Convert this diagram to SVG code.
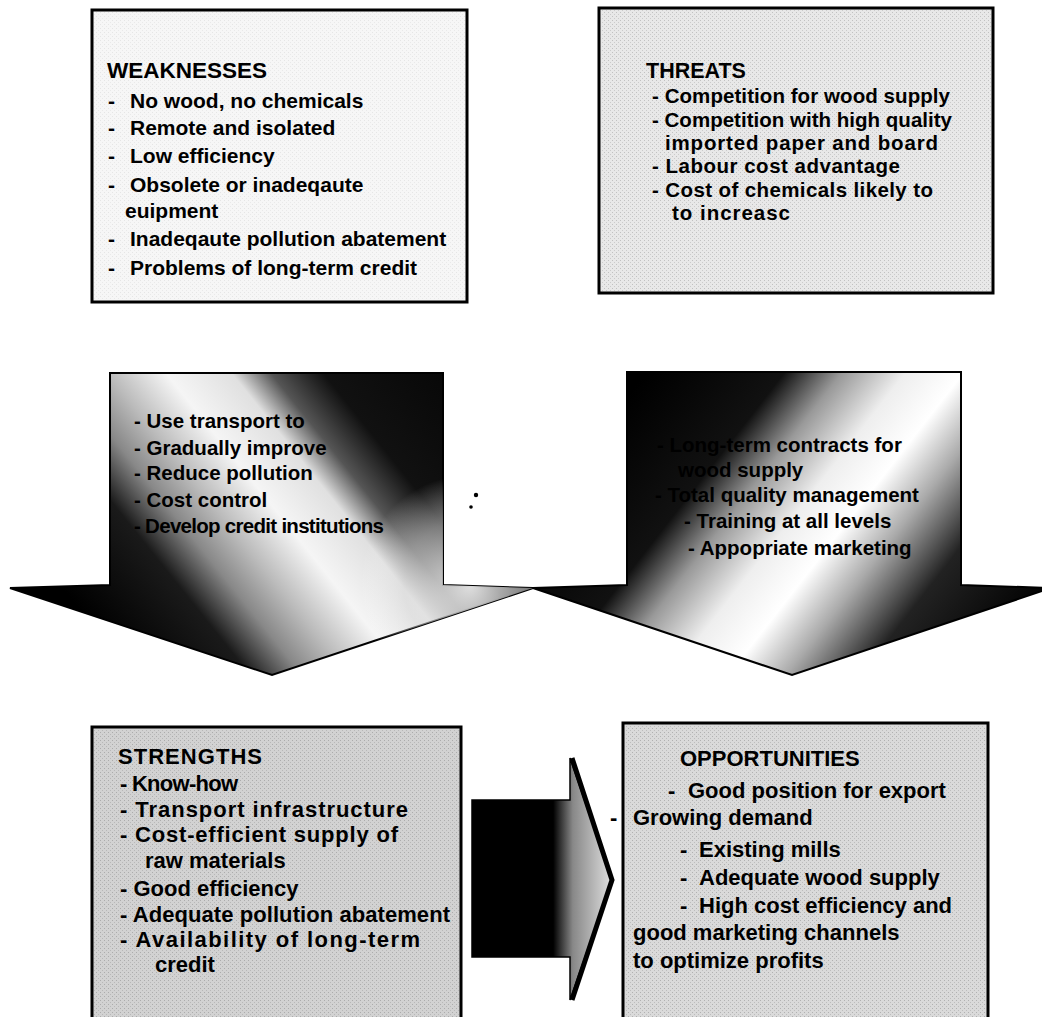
<svg xmlns="http://www.w3.org/2000/svg" width="1042" height="1017" viewBox="0 0 1042 1017">
<defs>
<style>
.box{stroke:#000;stroke-width:3}
.t{font-family:"Liberation Sans",Arial,sans-serif;font-weight:bold;fill:#000}
.w{font-size:21px}
.th{font-size:20.5px}
.s{font-size:22px}
.o{font-size:22px}
.a{font-size:20.5px}
.arrow{stroke:#000;stroke-width:2;stroke-linejoin:miter}
</style>
<pattern id="dither" width="4" height="4" patternUnits="userSpaceOnUse">
<rect x="0" y="0" width="1" height="1" fill="#666"/>
<rect x="2" y="2" width="1" height="1" fill="#888"/>
</pattern>
<linearGradient id="gLeft" gradientUnits="userSpaceOnUse" x1="40" y1="560" x2="440" y2="240">
<stop offset="0" stop-color="#000"/>
<stop offset="0.18" stop-color="#1a1a1a"/>
<stop offset="0.26" stop-color="#888"/>
<stop offset="0.33" stop-color="#bbb"/>
<stop offset="0.42" stop-color="#f5f5f5"/>
<stop offset="0.52" stop-color="#e0e0e0"/>
<stop offset="0.58" stop-color="#555"/>
<stop offset="0.66" stop-color="#111"/>
<stop offset="1" stop-color="#000"/>
</linearGradient>
<radialGradient id="gWing" gradientUnits="userSpaceOnUse" cx="470" cy="585" r="110">
<stop offset="0" stop-color="#fff" stop-opacity="0.85"/>
<stop offset="0.6" stop-color="#ddd" stop-opacity="0.5"/>
<stop offset="1" stop-color="#fff" stop-opacity="0"/>
</radialGradient>
<linearGradient id="gRight" gradientUnits="userSpaceOnUse" x1="640" y1="380" x2="1000" y2="660">
<stop offset="0" stop-color="#000"/>
<stop offset="0.24" stop-color="#111"/>
<stop offset="0.34" stop-color="#999"/>
<stop offset="0.45" stop-color="#eee"/>
<stop offset="0.55" stop-color="#fff"/>
<stop offset="0.65" stop-color="#aaa"/>
<stop offset="0.78" stop-color="#222"/>
<stop offset="1" stop-color="#000"/>
</linearGradient>
<linearGradient id="gMid" gradientUnits="userSpaceOnUse" x1="472" y1="0" x2="612" y2="0">
<stop offset="0" stop-color="#000"/>
<stop offset="0.58" stop-color="#000"/>
<stop offset="0.72" stop-color="#888"/>
<stop offset="1" stop-color="#e0e0e0"/>
</linearGradient>
</defs>
<rect x="0" y="0" width="1042" height="1017" fill="#fff"/>

<g id="weaknesses">
<rect class="box" x="92" y="10" width="375" height="292" fill="#f6f6f6"/>
<rect x="94" y="12" width="371" height="288" fill="url(#dither)" opacity="0.12"/>
<text class="t" x="107" y="78" font-size="22.5">WEAKNESSES</text>
<text class="t w" y="108"><tspan x="108">- </tspan><tspan x="130">No wood, no chemicals</tspan></text>
<text class="t w" y="135"><tspan x="108">- </tspan><tspan x="130">Remote and isolated</tspan></text>
<text class="t w" y="163"><tspan x="108">- </tspan><tspan x="130">Low efficiency</tspan></text>
<text class="t w" y="192"><tspan x="108">- </tspan><tspan x="130">Obsolete or inadeqaute</tspan></text>
<text class="t w" x="125" y="218">euipment</text>
<text class="t w" y="246"><tspan x="108">- </tspan><tspan x="130">Inadeqaute pollution abatement</tspan></text>
<text class="t w" y="275"><tspan x="108">- </tspan><tspan x="130">Problems of long-term credit</tspan></text>
</g>

<g id="threats">
<rect class="box" x="599" y="8" width="394" height="285" fill="#e8e8e8"/>
<rect x="601" y="10" width="390" height="281" fill="url(#dither)" opacity="0.3"/>
<text class="t" x="646" y="78" font-size="21.5">THREATS</text>
<text class="t th" x="652" y="103" textLength="298">- Competition for wood supply</text>
<text class="t th" x="652" y="127" textLength="300">- Competition with high quality</text>
<text class="t th" x="665" y="150" textLength="273">imported paper and board</text>
<text class="t th" x="652" y="173" textLength="248">- Labour cost advantage</text>
<text class="t th" x="652" y="197" textLength="281">- Cost of chemicals likely to</text>
<text class="t th" x="672" y="220" textLength="118">to increasc</text>
</g>

<g id="strategy-left">
<path class="arrow" d="M110,373 L443,373 L443,585 L533,588 L272,675 L10,588 L110,585 Z" fill="url(#gLeft)"/>
<path d="M110,373 L443,373 L443,585 L533,588 L272,675 L10,588 L110,585 Z" fill="url(#gWing)"/>
<text class="t a" x="134" y="428">- Use transport to</text>
<text class="t a" x="134" y="455">- Gradually improve</text>
<text class="t a" x="134" y="480">- Reduce pollution</text>
<text class="t a" x="134" y="507">- Cost control</text>
<text class="t a" x="134" y="533" textLength="250">- Develop credit institutions</text>
</g>

<g id="strategy-right">
<path class="arrow" d="M627,372 L961,372 L961,585 L1051,588 L792,675 L533,588 L627,585 Z" fill="url(#gRight)"/>
<text class="t a" x="657" y="452">- Long-term contracts for</text>
<text class="t a" x="678" y="477">wood supply</text>
<text class="t a" x="655" y="502">- Total quality management</text>
<text class="t a" x="684" y="528">- Training at all levels</text>
<text class="t a" x="688" y="555">- Appopriate marketing</text>
</g>

<g id="marks">
<circle cx="476" cy="495" r="2.2" fill="#000"/>
<circle cx="471" cy="507" r="1.8" fill="#000"/>
</g>

<g id="strengths">
<rect class="box" x="92" y="727" width="369" height="300" fill="#d2d2d2"/>
<rect x="94" y="729" width="365" height="290" fill="url(#dither)" opacity="0.35"/>
<text class="t s" x="118" y="764" textLength="144">STRENGTHS</text>
<text class="t s" x="120" y="791" textLength="118">- Know-how</text>
<text class="t s" x="120" y="817" textLength="288">- Transport infrastructure</text>
<text class="t s" x="120" y="842" textLength="278">- Cost-efficient supply of</text>
<text class="t s" x="145" y="868">raw materials</text>
<text class="t s" x="120" y="896">- Good efficiency</text>
<text class="t s" x="120" y="922" textLength="330">- Adequate pollution abatement</text>
<text class="t s" x="120" y="947" textLength="300">- Availability of long-term</text>
<text class="t s" x="155" y="972">credit</text>
</g>

<g id="opportunities">
<rect class="box" x="623" y="723" width="365" height="304" fill="#dadada"/>
<rect x="625" y="725" width="361" height="294" fill="url(#dither)" opacity="0.35"/>
<text class="t o" x="680" y="766">OPPORTUNITIES</text>
<text class="t o" y="798"><tspan x="668">- </tspan><tspan x="688">Good position for export</tspan></text>
<text class="t o" y="825"><tspan x="610">-</tspan><tspan x="633">Growing demand</tspan></text>
<text class="t o" y="857"><tspan x="680">- </tspan><tspan x="699">Existing mills</tspan></text>
<text class="t o" y="885"><tspan x="680">- </tspan><tspan x="699">Adequate wood supply</tspan></text>
<text class="t o" y="913"><tspan x="680">- </tspan><tspan x="699">High cost efficiency and</tspan></text>
<text class="t o" x="633" y="940">good marketing channels</text>
<text class="t o" x="633" y="968">to optimize profits</text>
</g>

<g id="connectors">
<path d="M472,800 L570,800 L570,758 L612,880 L570,1000 L570,957 L472,957 Z" fill="url(#gMid)" stroke="#000" stroke-width="1.5"/>
<polyline points="572,758 612,880 572,1000" fill="none" stroke="#000" stroke-width="5" stroke-linejoin="miter"/>
</g>
</svg>
